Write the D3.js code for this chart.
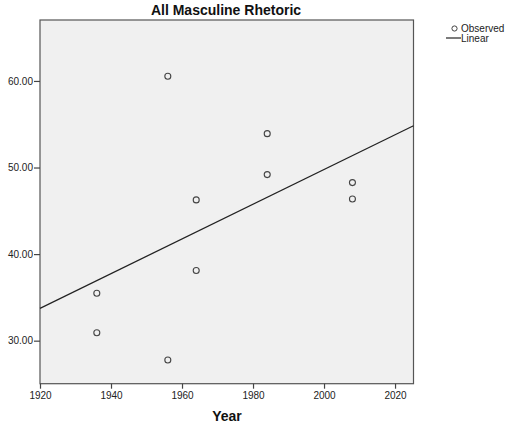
<!DOCTYPE html>
<html>
<head>
<meta charset="utf-8">
<script src="https://cdn.jsdelivr.net/npm/d3@7"></script>
<style>
  body { margin: 0; background: #fff; }
  svg { display: block; }
  text { font-family: "Liberation Sans", Arial, sans-serif; }
</style>
</head>
<body>
<script>
const years = [1936, 1936, 1956, 1956, 1964, 1964, 1984, 1984, 2008, 2008];
const values = [35.47, 30.92, 27.77, 60.54, 46.26, 38.10, 49.18, 53.91, 48.26, 46.37];
const xTicks = [1920, 1940, 1960, 1980, 2000, 2020];
const yTicks = [30, 40, 50, 60];
const title = "All Masculine Rhetoric";
const xLabel = "Year";
const legendLabels = ["Observed", "Linear"];

const W = 508, H = 429;
const m = { left: 40, top: 20, right: 413.5, bottom: 383.7 };

const svg = d3.select("body").append("svg").attr("width", W).attr("height", H);

const x = d3.scaleLinear().domain([1920, 2025.2]).range([m.left, m.right]);
const y = d3.scaleLinear().domain([25.03, 67.04]).range([m.bottom, m.top]);

// plot background
svg.append("rect")
  .attr("x", m.left).attr("y", m.top)
  .attr("width", m.right - m.left).attr("height", m.bottom - m.top)
  .attr("fill", "#f0f0f0").attr("stroke", "#555").attr("stroke-width", 1.2);

// regression line
const mx = d3.mean(years), my = d3.mean(values);
const sxy = d3.sum(years, (d, i) => (d - mx) * (values[i] - my));
const sxx = d3.sum(years, d => (d - mx) * (d - mx));
const slope = sxy / sxx, intercept = my - slope * mx;
const xd = x.domain();
svg.append("line")
  .attr("x1", x(xd[0])).attr("y1", y(intercept + slope * xd[0]))
  .attr("x2", x(xd[1])).attr("y2", y(intercept + slope * xd[1]))
  .attr("stroke", "#222").attr("stroke-width", 1.2);

// points
svg.append("g").selectAll("circle").data(years).join("circle")
  .attr("cx", d => x(d)).attr("cy", (d, i) => y(values[i]))
  .attr("r", 3).attr("fill", "none").attr("stroke", "#444").attr("stroke-width", 1.1);

// axes
const xAxis = d3.axisBottom(x).tickValues(xTicks).tickFormat(d3.format("d")).tickSize(5).tickPadding(3);
const gx = svg.append("g").attr("transform", `translate(0,${m.bottom})`).call(xAxis);
gx.select(".domain").remove();
gx.selectAll("line").attr("stroke", "#444").attr("stroke-width", 1.2);
gx.selectAll("text").attr("font-size", 10).attr("fill", "#222")
  .style("font-family", "Liberation Sans, Arial, sans-serif");

const yAxis = d3.axisLeft(y).tickValues(yTicks).tickFormat(d3.format(".2f")).tickSize(6).tickPadding(1);
const gy = svg.append("g").attr("transform", `translate(${m.left},0)`).call(yAxis);
gy.select(".domain").remove();
gy.selectAll("line").attr("stroke", "#444").attr("stroke-width", 1.2);
gy.selectAll("text").attr("font-size", 10).attr("fill", "#222")
  .style("font-family", "Liberation Sans, Arial, sans-serif");

// title
svg.append("text").attr("x", 226).attr("y", 15).attr("text-anchor", "middle")
  .attr("font-size", 14).attr("font-weight", "bold").attr("fill", "#111").text(title);

// x label
svg.append("text").attr("x", 227).attr("y", 421).attr("text-anchor", "middle")
  .attr("font-size", 14).attr("font-weight", "bold").attr("fill", "#111").text(xLabel);

// legend
const lg = svg.append("g");
lg.append("circle").attr("cx", 454.5).attr("cy", 28.5).attr("r", 2.6)
  .attr("fill", "none").attr("stroke", "#444").attr("stroke-width", 1);
lg.append("text").attr("x", 461).attr("y", 32).attr("font-size", 10).attr("fill", "#222").text(legendLabels[0]);
lg.append("line").attr("x1", 446).attr("x2", 461).attr("y1", 38).attr("y2", 38)
  .attr("stroke", "#222").attr("stroke-width", 1.2);
lg.append("text").attr("x", 461).attr("y", 42).attr("font-size", 10).attr("fill", "#222").text(legendLabels[1]);
</script>
</body>
</html>
